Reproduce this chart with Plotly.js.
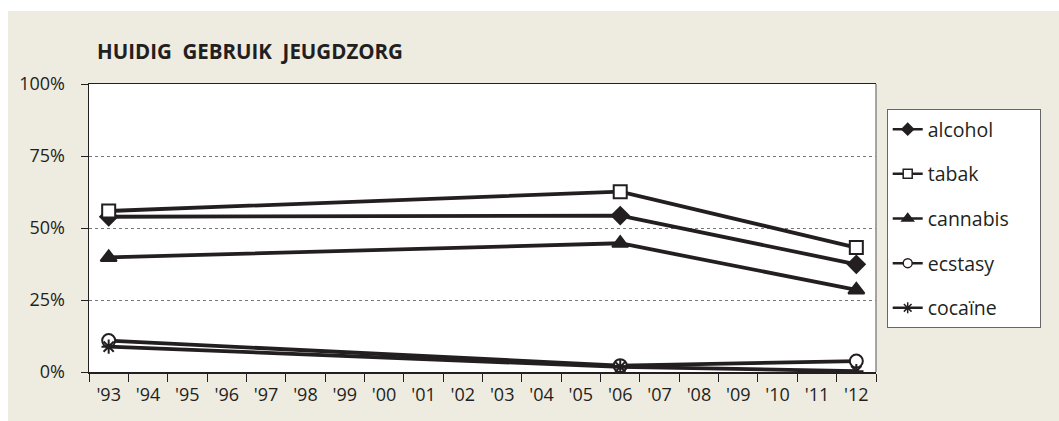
<!DOCTYPE html>
<html>
<head>
<meta charset="utf-8">
<script src="https://cdn.plot.ly/plotly-3.0.1.min.js"></script>
<style>
    html, body { margin: 0; padding: 0; background: #ffffff; }
    #chart { position: absolute; left: 8px; top: 11px; width: 1051px; height: 410px; }
</style>
</head>
<body>
<div id="chart"></div>
<script>
// category axis: every year from '93 to '12, data only on three of them
const categories = ["'93", "'94", "'95", "'96", "'97", "'98", "'99", "'00", "'01", "'02",
    "'03", "'04", "'05", "'06", "'07", "'08", "'09", "'10", "'11", "'12"];
const years = ["'93", "'06", "'12"];

const seriesNames = ['alcohol', 'tabak', 'cannabis', 'ecstasy', 'cocaïne'];
const alcohol = [53.9, 54.3, 37.4];
const tabak = [55.9, 62.6, 43.2];
const cannabis = [39.8, 44.7, 28.5];
const ecstasy = [10.9, 2.2, 3.8];
const cocaine = [8.8, 1.8, 0.3];

const yTicks = [0, 25, 50, 75, 100];

const ink = '#231f20';
const fontFamily = '"Open Sans", "Noto Sans", sans-serif';

const styles = [
    { symbol: 'diamond', size: 13, legendSize: 9, fill: ink },
    { symbol: 'square', size: 13, legendSize: 9, fill: '#ffffff' },
    { symbol: 'triangle-up', size: 14, legendSize: 10, fill: ink },
    { symbol: 'circle', size: 13, legendSize: 9, fill: '#ffffff' },
    { symbol: 'asterisk-open', size: 12, legendSize: 9, fill: ink },
];

const values = [alcohol, tabak, cannabis, ecstasy, cocaine];

const traces = [];
values.forEach((vals, i) => {
    const s = styles[i];
    traces.push({
        x: years,
        y: vals,
        name: seriesNames[i],
        type: 'scatter',
        mode: 'lines+markers',
        line: { color: ink, width: 3.8 },
        marker: { symbol: s.symbol, size: s.size, color: s.fill, line: { color: ink, width: 2 } },
        showlegend: false,
        hoverinfo: 'skip',
    });
});
// legend entries with the smaller symbols the reference uses
values.forEach((vals, i) => {
    const s = styles[i];
    traces.push({
        x: [null],
        y: [null],
        name: seriesNames[i] + '\u00a0'.repeat(5),
        type: 'scatter',
        mode: 'lines+markers',
        line: { color: ink, width: 2.5 },
        marker: { symbol: s.symbol, size: s.legendSize, color: s.fill, line: { color: ink, width: 1.5 } },
        legendgroup: seriesNames[i],
        hoverinfo: 'skip',
    });
});

const layout = {
    width: 1051,
    height: 410,
    margin: { l: 81, r: 183, t: 73, b: 49 },
    paper_bgcolor: '#eeebe0',
    plot_bgcolor: '#ffffff',
    font: { family: fontFamily, size: 18, color: ink },
    title: {
        text: '<b>HUIDIG\u00a0 GEBRUIK\u00a0 JEUGDZORG</b>',
        font: { family: fontFamily, size: 20.5, color: ink },
        xref: 'container',
        x: 89 / 1051,
        xanchor: 'left',
        yref: 'container',
        y: 1 - 41 / 410,
        yanchor: 'middle',
    },
    xaxis: {
        type: 'category',
        categoryorder: 'array',
        categoryarray: categories,
        range: [-0.5, 19.5],
        tickson: 'boundaries',
        ticks: 'outside',
        ticklen: 8,
        tickcolor: ink,
        tickwidth: 1,
        showline: true,
        linecolor: ink,
        linewidth: 1.5,
        mirror: true,
        showgrid: false,
        zeroline: false,
        ticklabelstandoff: 6,
        tickfont: { size: 18, color: ink },
    },
    yaxis: {
        range: [0, 100],
        tickvals: yTicks,
        ticktext: yTicks.map((v) => v + '%'),
        ticks: 'outside',
        ticklen: 7,
        tickcolor: ink,
        showline: true,
        linecolor: ink,
        linewidth: 1.5,
        showgrid: true,
        gridcolor: '#777777',
        griddash: 'dot',
        gridwidth: 1,
        zeroline: false,
        ticklabelstandoff: 12,
        tickfont: { size: 18, color: ink },
    },
    shapes: [{
        type: 'line',
        xref: 'paper',
        yref: 'paper',
        x0: 1, x1: 1, y0: 0, y1: 1,
        line: { color: '#8a8a8a', width: 1.5 },
    }],
    showlegend: true,
    legend: {
        x: (878.7 - 81) / 787,
        xanchor: 'left',
        y: (361 - 98) / 288,
        yanchor: 'top',
        bgcolor: '#ffffff',
        bordercolor: '#666666',
        borderwidth: 1,
        traceorder: 'grouped',
        tracegroupgap: 16.3,
        font: { family: fontFamily, size: 19.5, color: ink },
    },
};

Plotly.newPlot('chart', traces, layout, { displayModeBar: false, staticPlot: true });
</script>
</body>
</html>
